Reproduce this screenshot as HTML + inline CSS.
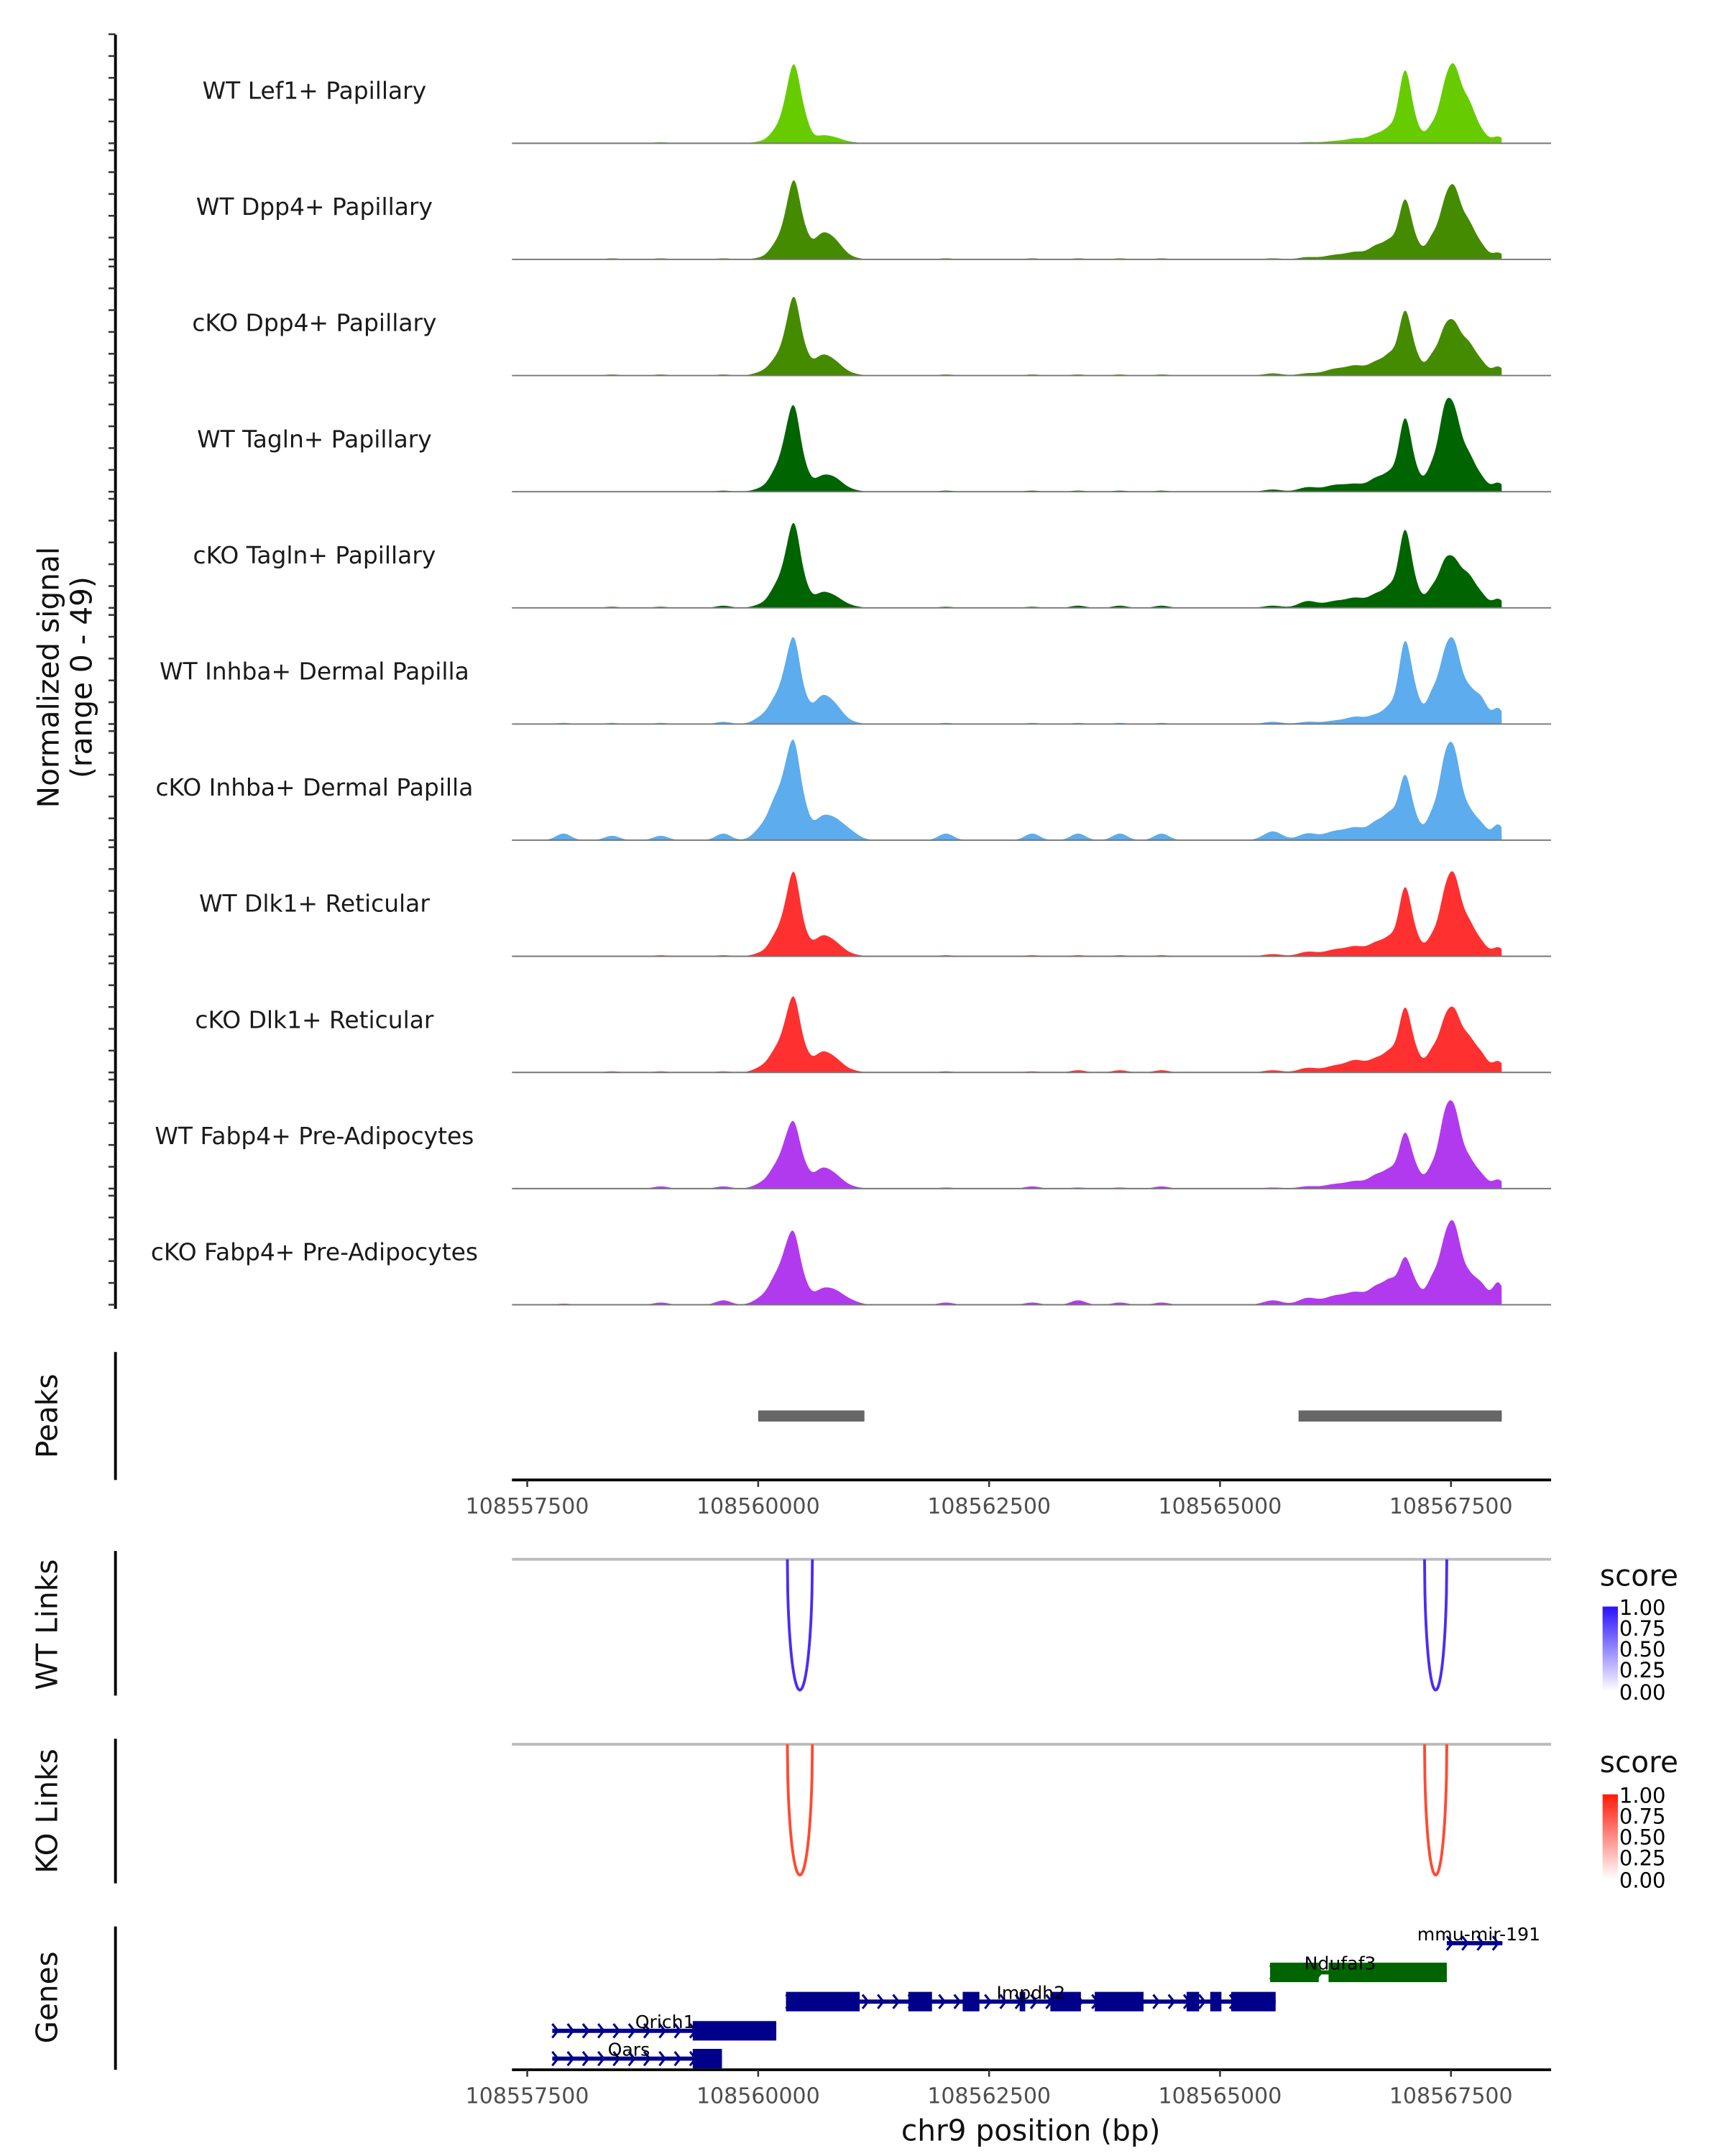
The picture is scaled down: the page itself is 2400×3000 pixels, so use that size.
<!DOCTYPE html>
<html><head><meta charset="utf-8"><title>Coverage plot chr9</title>
<style>html,body{margin:0;padding:0;background:#fff}svg{display:block}text{font-family:"DejaVu Sans","Liberation Sans",sans-serif}</style></head>
<body>
<svg id="chart" xmlns="http://www.w3.org/2000/svg" width="2400" height="3000" viewBox="0 0 1240 1550">
<defs>
<linearGradient id="gBlue" x1="0" y1="0" x2="0" y2="1"><stop offset="0" stop-color="#2a10ff"/><stop offset="1" stop-color="#ffffff"/></linearGradient>
<linearGradient id="gRed" x1="0" y1="0" x2="0" y2="1"><stop offset="0" stop-color="#ff1a0a"/><stop offset="1" stop-color="#ffffff"/></linearGradient>
</defs>
<g id="tracks"></g>
<g id="yaxis"></g>
<text transform="translate(42,487) rotate(-90)" text-anchor="middle" font-size="21" fill="#111">Normalized signal</text>
<text transform="translate(66,487) rotate(-90)" text-anchor="middle" font-size="21" fill="#111">(range 0 - 49)</text>
<g id="peaks"></g>
<line x1="83" y1="972" x2="83" y2="1064" stroke="#000" stroke-width="2"/>
<text transform="translate(41,1018) rotate(-90)" text-anchor="middle" font-size="21" fill="#111">Peaks</text>
<g id="xaxis1"></g>
<g id="links"></g>
<line x1="83" y1="1115" x2="83" y2="1219" stroke="#000" stroke-width="2"/>
<text transform="translate(41,1168) rotate(-90)" text-anchor="middle" font-size="21" fill="#111">WT Links</text>
<line x1="83" y1="1250" x2="83" y2="1354" stroke="#000" stroke-width="2"/>
<text transform="translate(41,1302) rotate(-90)" text-anchor="middle" font-size="21" fill="#111">KO Links</text>
<g>
<text x="1150" y="1140" font-size="21" fill="#111">score</text>
<rect x="1152" y="1155" width="11" height="61" fill="url(#gBlue)"/>
<text x="1164" y="1161" font-size="15">1.00</text><text x="1164" y="1176" font-size="15">0.75</text><text x="1164" y="1191" font-size="15">0.50</text><text x="1164" y="1206" font-size="15">0.25</text><text x="1164" y="1222" font-size="15">0.00</text>
</g>
<g>
<text x="1150" y="1274" font-size="21" fill="#111">score</text>
<rect x="1152" y="1290" width="11" height="61" fill="url(#gRed)"/>
<text x="1164" y="1296" font-size="15">1.00</text><text x="1164" y="1311" font-size="15">0.75</text><text x="1164" y="1326" font-size="15">0.50</text><text x="1164" y="1341" font-size="15">0.25</text><text x="1164" y="1357" font-size="15">0.00</text>
</g>
<g id="genes"></g>
<line x1="83" y1="1385" x2="83" y2="1488" stroke="#000" stroke-width="2"/>
<text transform="translate(41,1436) rotate(-90)" text-anchor="middle" font-size="21" fill="#111">Genes</text>
<g id="xaxis2"></g>
<text x="741" y="1539" text-anchor="middle" font-size="21" fill="#111">chr9 position (bp)</text>
</svg>
<script>
const NS="http://www.w3.org/2000/svg";
const trackNames=["WT Lef1+ Papillary","WT Dpp4+ Papillary","cKO Dpp4+ Papillary","WT Tagln+ Papillary","cKO Tagln+ Papillary","WT Inhba+ Dermal Papilla","cKO Inhba+ Dermal Papilla","WT Dlk1+ Reticular","cKO Dlk1+ Reticular","WT Fabp4+ Pre-Adipocytes","cKO Fabp4+ Pre-Adipocytes"];
const trackColors=["#66cc00","#458b00","#458b00","#006400","#006400","#5cacee","#5cacee","#ff3030","#ff3030","#b23aee","#b23aee"];
const peakCenters=[108557892,108558419,108558946,108559623,108560075,108560196,108560301,108560392,108560497,108560678,108560828,108560979,108562033,108562967,108563464,108563916,108564367,108565572,108565949,108566250,108566476,108566702,108566852,108567003,108567123,108567304,108567425,108567530,108567681,108567831,108568012];
const peakWidths=[80,80,80,80,100,70,60,60,60,90,90,100,80,80,80,80,80,100,100,120,100,90,70,65,60,70,60,70,80,70,60];
const h0=[0,0,0.5,0,1,5,12,30,10,3,2,0.5,0,0,0,0,0,0,0.5,1,2,4,6,32,6,8,16,30,18,4,3];
const h1=[0,0.5,0.5,0.5,1,6,12,30,10,10,7,1,0.5,0.5,0.5,0.5,0.5,0.5,1,2,3,6,7,26,6,10,16,28,16,5,3];
const h2=[0,0.5,0.5,0.5,2,6,12,30,9,8,5,1,0.5,0.5,0.5,0.5,0.5,1,1,3,4,6,8,28,7,9,14,20,14,5,4];
const h3=[0,0,0,0.5,2,8,16,32,9,6,5,1,0.5,0.5,0.5,0.5,0.5,1,2,3,3,6,7,32,7,12,26,32,16,5,4];
const h4=[0,0.5,0.5,1,2,8,14,32,9,6,4,1,0.5,0.5,1,1,1,1,3,3,4,6,8,34,7,9,14,18,14,5,4];
const h5=[0.5,0.5,0.5,1,4,9,16,32,9,11,7,1,0.5,0.5,0.5,0.5,0.5,1,1,1.5,3,4,7,36,10,14,20,32,15,10,7];
const h6=[3,2,2,3,7,14,20,36,12,9,7,4,3,3,3,3,3,4,3,4,5,8,10,28,7,12,24,36,13,6,7];
const h7=[0,0,0.5,0.5,2,8,14,32,8,8,5,1,0.5,0.5,0.5,0.5,0.5,1,2,3,4,6,7,30,7,9,18,32,15,5,4];
const h8=[0,0.5,0.5,0.5,3,8,14,28,8,8,5,1,0.5,0.5,1,1,1,1,2,3,5,6,8,28,7,10,15,24,15,7,5];
const h9=[0,0,1,1,3,8,14,24,8,8,5,1,0.5,1,0.5,0.5,1,0.5,1,2,3,6,7,24,7,10,22,32,13,5,4];
const h10=[0.5,0,1,2,4,10,16,26,8,6,5,2,1,1,2,1,1,2,3,4,5,8,9,20,7,12,18,32,13,8,10];
const trackHeights=[h0,h1,h2,h3,h4,h5,h6,h7,h8,h9,h10];
const regionStart=108557250, regionEnd=108568050;
const axisTicks=[108557500,108560000,108562500,108565000,108567500];
const peakRegions=[[108560000,108561150],[108565850,108568050]];
const wtLinks=[[108560316,108560587,1.0],[108567214,108567455,1.0]];
const koLinks=[[108560316,108560587,1.0],[108567214,108567455,1.0]];
const geneNames=["mmu-mir-191","Ndufaf3","Impdh2","Qrich1","Qars"];
const geneSpans=[[108567455,108568057],[108565542,108567455],[108560301,108565602],[108557771,108560196],[108557771,108559608]];
const geneExons=[[],[[108565542,108566069],[108566175,108567455]],[[108560301,108561099],[108561626,108561882],[108562214,108562395],[108562831,108562891],[108563163,108563494],[108563644,108564172],[108564638,108564774],[108564894,108565015],[108565120,108565602]],[[108559292,108560196]],[[108559292,108559608]]];
const geneColors=["#00008b","#006400","#00008b","#00008b","#00008b"];
const geneRows=[1397,1418,1439,1460,1480];
const geneLabelX=[108567801,108566300,108562952,108558991,108558600];

function X(bp){return 379+(bp-108557500)/15.06;}
function mk(tag,attrs,parent){const e=document.createElementNS(NS,tag);for(const k in attrs)e.setAttribute(k,attrs[k]);parent.appendChild(e);return e;}
const base0=103, step=83.5, unit=1.568;
const tracks=document.getElementById('tracks'), yaxis=document.getElementById('yaxis');
mk('line',{x1:83,y1:25,x2:83,y2:941,stroke:'#000','stroke-width':2},yaxis);
trackNames.forEach((name,i)=>{
  const b=base0+i*step;
  const g=mk('g',{},tracks);
  
  
  const t=mk('text',{x:226,y:b-32,'text-anchor':'middle','font-size':17,fill:'#1a1a1a'},g);
  t.textContent=name;
  
  
  let d='M'+X(regionStart).toFixed(1)+','+b;
  const hs=trackHeights[i];
  for(let px=X(regionStart);px<=X(regionEnd);px+=0.5){
    const bp=108557500+(px-379)*15.06;let v=0;
    for(let k=0;k<peakCenters.length;k++){const z=(bp-peakCenters[k])/peakWidths[k];v+=hs[k]*Math.exp(-0.5*z*z);}
    v=Math.min(v,49);
    d+=' L'+px.toFixed(1)+','+(b-v*unit).toFixed(2);
  }
  d+=' L'+X(regionEnd).toFixed(1)+','+b+' Z';
  const p=mk('path',{d:d,fill:trackColors[i]},g);
  
  
  const bl=mk('line',{x1:368,y1:b,x2:1115,y2:b,stroke:'#777','stroke-width':1},g);
  
  
  for(let v=0;v<=50;v+=10){const y=b-v*unit;const tk=mk('line',{x1:78,y1:y,x2:83,y2:y,stroke:'#333','stroke-width':1.3},yaxis);
    
    }
});
const pk=document.getElementById('peaks');
peakRegions.forEach(r=>{const e=mk('rect',{x:X(r[0]),y:1014,width:X(r[1])-X(r[0]),height:8,fill:'#666'},pk);
  
  });
function xaxis(id,y){const g=document.getElementById(id);
  mk('line',{x1:368,y1:y,x2:1115,y2:y,stroke:'#000','stroke-width':2},g);
  axisTicks.forEach(t=>{const x=X(t);mk('line',{x1:x,y1:y,x2:x,y2:y+5,stroke:'#333','stroke-width':1.3},g);
    const tx=mk('text',{x:x,y:y+24,'text-anchor':'middle','font-size':15.5,fill:'#4d4d4d'},g);tx.textContent=t;
    
    });}
xaxis('xaxis1',1064);xaxis('xaxis2',1488);
const lk=document.getElementById('links');
function drawLinks(arr,top,depth,col){
  mk('line',{x1:368,y1:top,x2:1115,y2:top,stroke:'#bbb','stroke-width':2},lk);
  arr.forEach(l=>{const x1=X(l[0]),x2=X(l[1]);let d='';
    for(let i=0;i<=60;i++){const u=-1+2*i/60;const x=x1+(x2-x1)*(i/60);const y=top+depth*Math.sqrt(Math.max(0,1-u*u));d+=(i?' L':'M')+x.toFixed(2)+','+y.toFixed(2);}
    const p=mk('path',{d:d,fill:'none',stroke:col,'stroke-width':2,opacity:l[2]},lk);
    
    });}
drawLinks(wtLinks,1121,94,'#4b2cf5');drawLinks(koLinks,1254,94,'#ff4a30');
const gg=document.getElementById('genes');
geneNames.forEach((n,i)=>{const y=geneRows[i],c=geneColors[i];const g=mk('g',{},gg);
  
  
  const s=geneSpans[i];mk('line',{x1:X(s[0]),y1:y,x2:X(s[1]),y2:y,stroke:c,'stroke-width':3},g);
  for(let x=X(s[0])+3;x<X(s[1])-2;x+=11){mk('polyline',{points:(x-3)+','+(y-5)+' '+(x+1)+','+y+' '+(x-3)+','+(y+5),fill:'none',stroke:c,'stroke-width':1.6},g);}
  geneExons[i].forEach(e=>{mk('rect',{x:X(e[0]),y:y-7,width:X(e[1])-X(e[0]),height:14,fill:c},g);});
  const t=mk('text',{x:X(geneLabelX[i]),y:y-2,'text-anchor':'middle','font-size':13,fill:'#000'},g);t.textContent=n;
  
  });
</script>
</body></html>
